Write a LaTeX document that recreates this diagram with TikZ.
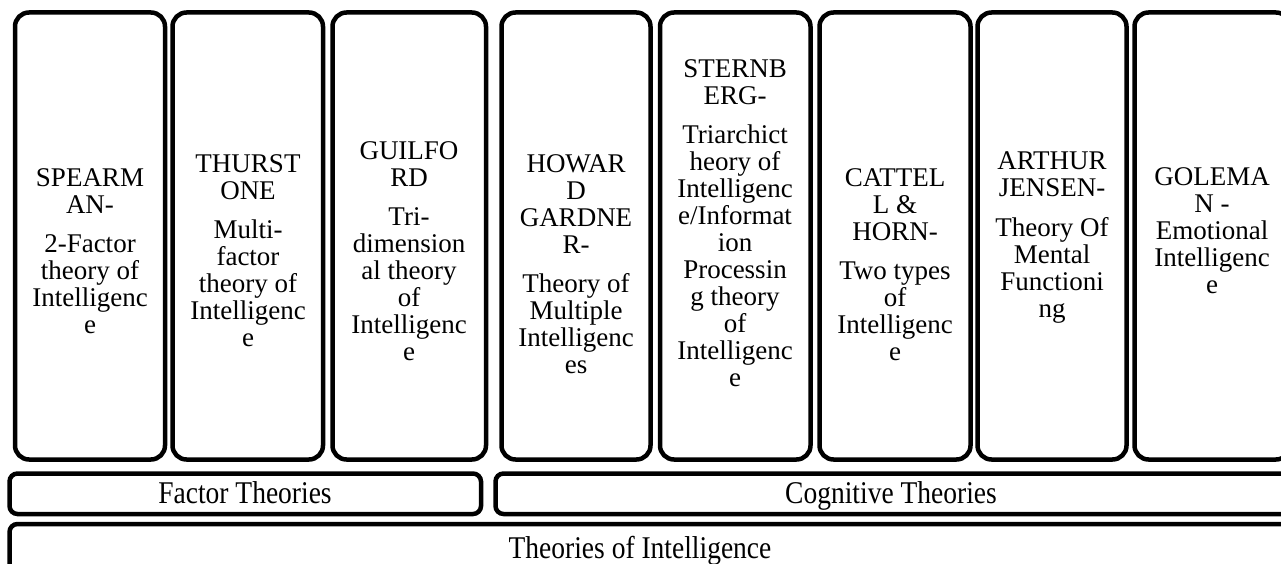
\documentclass[tikz,border=0pt]{standalone}
\usepackage{fontspec}
\setmainfont{Liberation Serif}
\begin{document}
\begin{tikzpicture}[x=1pt,y=-1pt,
  col/.style={draw=black,line width=4.5pt,rounded corners=14pt},
  band/.style={draw=black,line width=4.5pt,rounded corners=8pt},
  txt/.style={align=center,inner sep=0pt,font=\fontsize{27}{27}\selectfont},
  btxt/.style={inner sep=0pt,anchor=base,font=\fontsize{27.5}{27.5}\selectfont}]
\useasboundingbox (0,0) rectangle (1281,564);
\clip (0,0) rectangle (1281,564);
% top columns
\draw[col] (15,12.5) rectangle (165,459.5);
\draw[col] (172.5,12.5) rectangle (323,459.5);
\draw[col] (332.5,12.5) rectangle (486,459.5);
\draw[col] (501.5,12.5) rectangle (650.5,459.5);
\draw[col] (660,12.5) rectangle (810.5,459.5);
\draw[col] (819.5,12.5) rectangle (970.5,459.5);
\draw[col] (977.5,12.5) rectangle (1126.5,459.5);
\draw[col] (1134.5,12.5) rectangle (1290,459.5);
\node[txt] (t1) at (90,251) {SPEARM\\AN-\\[12pt]2-Factor\\theory of\\Intelligenc\\e};
\node[txt] (t2) at (248,251) {THURST\\ONE\\[12pt]Multi-\\factor\\theory of\\Intelligenc\\e};
\node[txt] (t3) at (409,251) {GUILFO\\RD\\[12pt]Tri-\\dimension\\al theory\\of\\Intelligenc\\e};
\node[txt] (t4) at (576,264.5) {HOWAR\\D\\GARDNE\\R-\\[12pt]Theory of\\Multiple\\Intelligenc\\es};
\node[txt] (t5) at (735,223.5) {STERNB\\ERG-\\[12pt]Triarchict\\heory of\\Intelligenc\\e/Informat\\ion\\Processin\\g theory\\of\\Intelligenc\\e};
\node[txt] (t6) at (895,264.5) {CATTEL\\L \&\\HORN-\\[12pt]Two types\\of\\Intelligenc\\e};
\node[txt] (t7) at (1052,237.5) {ARTHUR\\JENSEN-\\[12pt]Theory Of\\Mental\\Functioni\\ng};
\node[txt] (t8) at (1212,231) {GOLEMA\\N -\\Emotional\\Intelligenc\\e};
% bands
\draw[band] (9.5,473.5) rectangle (481,514);
\draw[band] (495.5,473.5) rectangle (1290,514);
\draw[band] (9.5,524) rectangle (1290,578);
\node[btxt] (f) at (245,503) {\scalebox{1}[1.15]{Factor Theories}};
\node[btxt] (c) at (891,503) {\scalebox{1}[1.15]{Cognitive Theories}};
\node[btxt] (ti) at (640,558) {\scalebox{1}[1.15]{Theories of Intelligence}};
\end{tikzpicture}
\end{document}
